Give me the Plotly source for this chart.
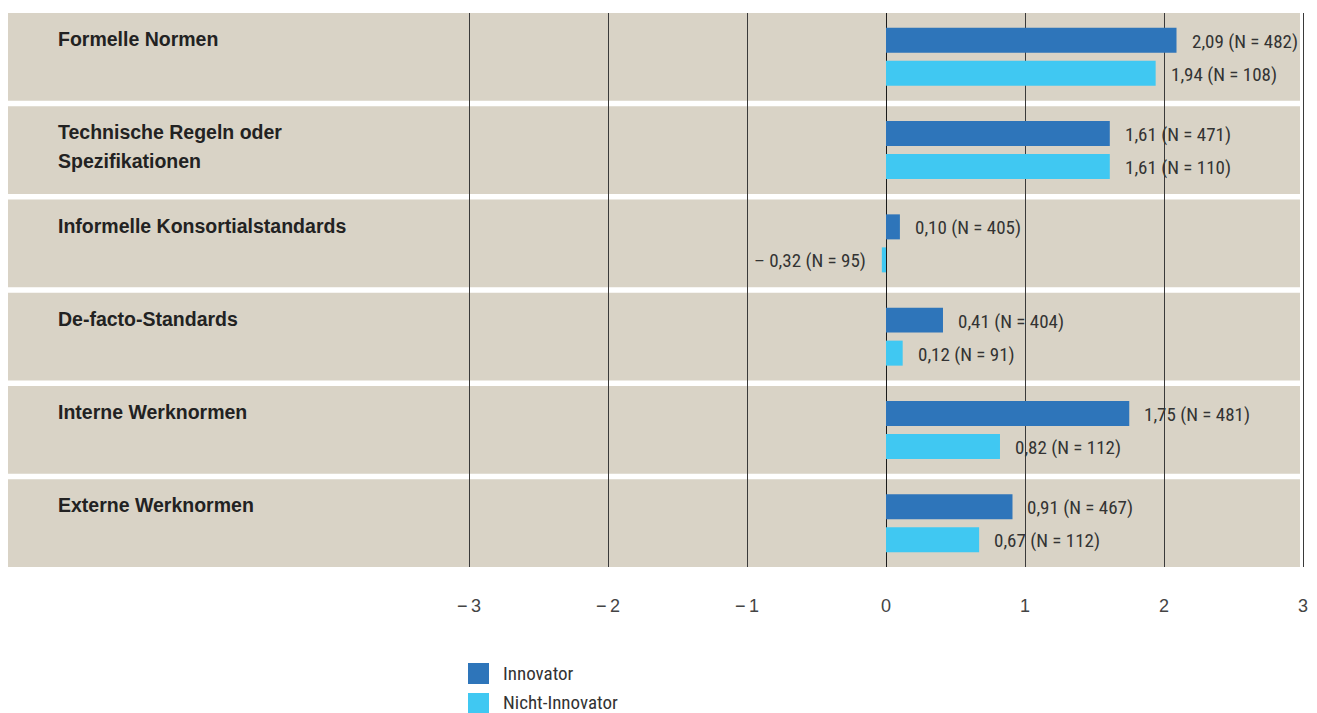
import plotly.graph_objects as go

# ---------------- data ----------------
categories = [
    "Formelle Normen",
    "Technische Regeln oder\nSpezifikationen",
    "Informelle Konsortialstandards",
    "De-facto-Standards",
    "Interne Werknormen",
    "Externe Werknormen",
]
innov_vals = [2.09, 1.61, 0.10, 0.41, 1.75, 0.91]
innov_n = [482, 471, 405, 404, 481, 467]
nicht_vals = [1.94, 1.61, -0.32, 0.12, 0.82, 0.67]
nicht_n = [108, 110, 95, 91, 112, 112]
# bar lengths as actually drawn in the reference (the -0,32 bar is only a sliver there)
nicht_drawn = [1.94, 1.61, -0.03, 0.12, 0.82, 0.67]
tick_vals = [-3, -2, -1, 0, 1, 2, 3]
tick_text = ["\u2212\u20093", "\u2212\u20092", "\u2212\u20091", "0", "1", "2", "3"]
series_names = ["Innovator", "Nicht-Innovator"]

# ---------------- style ----------------
C_INNOV = "#2E75BA"
C_NICHT = "#40C8F2"
C_BAND = "#D9D3C6"
W, H = 1317, 713
ML, MR, MT, MB = 8, 7, 13, 146
PW, PH = W - ML - MR, H - MT - MB
PX_PER_UNIT = 139.0
X0_PX = 886 - ML  # pixel position of x=0 inside plot area
x_lo = -X0_PX / PX_PER_UNIT
x_hi = (PW - X0_PX) / PX_PER_UNIT
HALF_BAND = 0.47
BARGAP = 0.292
BAR_OFF = (1 - BARGAP) / 4

def fmt(v):
    s = f"{abs(v):.2f}".replace(".", ",")
    return ("\u2013 " + s) if v < 0 else s

def pxx(p):  # absolute pixel -> paper x
    return (p - ML) / PW

def pxy(p):  # absolute pixel -> paper y
    return (H - MB - p) / PH

pos = list(range(len(categories)))

fig = go.Figure()
fig.add_trace(go.Bar(y=pos, x=innov_vals, orientation="h", name=series_names[0],
                     marker=dict(color=C_INNOV, line=dict(width=0)), showlegend=False))
fig.add_trace(go.Bar(y=pos, x=nicht_drawn, orientation="h", name=series_names[1],
                     marker=dict(color=C_NICHT, line=dict(width=0)), showlegend=False))

shapes = []
for i in pos:
    shapes.append(dict(type="rect", xref="paper", yref="y", layer="below",
                       x0=0, x1=pxx(1300), y0=i - HALF_BAND, y1=i + HALF_BAND,
                       fillcolor=C_BAND, line=dict(width=0)))

annotations = []
LBL_FONT = dict(family="Liberation Sans, Arial, sans-serif", size=19.5, color="#222")
VAL_FONT = dict(family="Roboto Condensed, Liberation Sans, sans-serif", size=19, color="#333")
for i, cat in enumerate(categories):
    for k, line in enumerate(cat.split("\n")):
        annotations.append(dict(xref="paper", yref="y", x=pxx(56), y=i - HALF_BAND,
                                xanchor="left", yanchor="middle", showarrow=False,
                                text="<b>" + line + "</b>", font=LBL_FONT,
                                yshift=-(26 + k * 28.4)))
for vals, drawn, ns, off in [(innov_vals, innov_vals, innov_n, -BAR_OFF),
                             (nicht_vals, nicht_drawn, nicht_n, BAR_OFF)]:
    for i, (v, d, n) in enumerate(zip(vals, drawn, ns)):
        annotations.append(dict(xref="x", yref="y", x=d, y=i + off,
                                xanchor="left" if v >= 0 else "right", yanchor="middle",
                                xshift=13 if v >= 0 else -14, yshift=-1, showarrow=False,
                                text=f"{fmt(v)} (N = {n})", font=VAL_FONT))

# manual legend
for k, (name, col) in enumerate(zip(series_names, [C_INNOV, C_NICHT])):
    top = 663 + k * 30
    shapes.append(dict(type="rect", xref="paper", yref="paper",
                       x0=pxx(468), x1=pxx(489), y0=pxy(top + 21), y1=pxy(top),
                       fillcolor=col, line=dict(width=0)))
    annotations.append(dict(xref="paper", yref="paper", x=pxx(501), y=pxy(top + 10.5 - k * 1.5),
                            xanchor="left", yanchor="middle", showarrow=False,
                            text=name, font=VAL_FONT))

fig.update_layout(
    width=W, height=H,
    margin=dict(l=ML, r=MR, t=MT, b=MB, pad=0),
    paper_bgcolor="white", plot_bgcolor="white",
    barmode="group", bargap=BARGAP, bargroupgap=0.243,
    shapes=shapes, annotations=annotations, showlegend=False,
    xaxis=dict(range=[x_lo, x_hi], tickvals=tick_vals, ticktext=tick_text,
               showgrid=True, gridcolor="#3a3a3a", gridwidth=1,
               zeroline=True, zerolinecolor="#1a1a1a", zerolinewidth=1,
               showline=False, ticks="", ticklabelstandoff=26,
               tickfont=dict(family="Liberation Sans, Arial, sans-serif", size=18, color="#444"),
               fixedrange=True),
    yaxis=dict(range=[len(categories) - 1 + HALF_BAND, -HALF_BAND], showgrid=False,
               zeroline=False, showticklabels=False, showline=False, fixedrange=True),
)

fig.write_html("out.html", config={"displayModeBar": False})
